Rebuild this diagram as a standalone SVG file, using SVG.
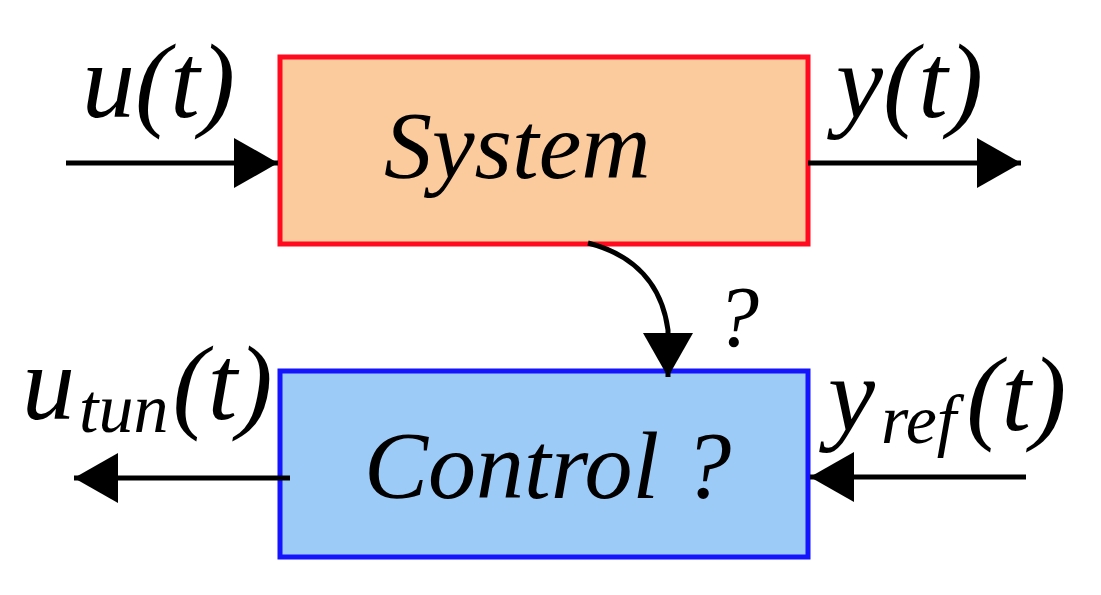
<svg xmlns="http://www.w3.org/2000/svg" width="1101" height="595" viewBox="0 0 1101 595">
<style>
.t{font-family:"Liberation Serif","Times New Roman",serif;font-style:italic;fill:#000}
.c{stroke:#000;stroke-width:5;fill:none}
</style>
<defs>
<marker id="ah" markerUnits="userSpaceOnUse" markerWidth="46" markerHeight="52" refX="44" refY="25" orient="auto">
<path d="M0,0 L44,25 L0,50 Z" fill="#000"/>
</marker>
</defs>
<rect width="1101" height="595" fill="#fff"/>
<g id="system">
<rect x="280" y="57" width="528" height="187" fill="#FCCB9D" stroke="#FF0A1E" stroke-width="5"/>
<text class="t" x="384" y="178" font-size="96">System</text>
</g>
<g id="control">
<rect x="280" y="371" width="528" height="186" fill="#9DCBF8" stroke="#1414FF" stroke-width="5"/>
<text class="t" x="364" y="498" font-size="96">Control ?</text>
</g>
<g id="connectors">
<line class="c" x1="66" y1="163" x2="278" y2="163" marker-end="url(#ah)"/>
<line class="c" x1="808" y1="163" x2="1021" y2="163" marker-end="url(#ah)"/>
<line class="c" x1="290" y1="478" x2="74" y2="478" marker-end="url(#ah)"/>
<line class="c" x1="1026" y1="477" x2="810" y2="477" marker-end="url(#ah)"/>
<path class="c" d="M588 243 C635 255,662 285,668 330 L668 377" marker-end="url(#ah)"/>
</g>
<g id="labels">
<text class="t" x="82" y="117" font-size="106">u(t)</text>
<text class="t" x="836" y="117" font-size="106">y(t)</text>
<text class="t" x="716" y="346" font-size="86">?</text>
<text class="t" x="22" y="419" font-size="106">u<tspan font-size="70" dx="4" dy="13">tun</tspan><tspan dx="4" dy="-13">(t)</tspan></text>
<text class="t" x="828" y="430" font-size="106">y<tspan font-size="70" dx="6" dy="13">ref</tspan><tspan dx="10" dy="-13">(t)</tspan></text>
</g>
</svg>
